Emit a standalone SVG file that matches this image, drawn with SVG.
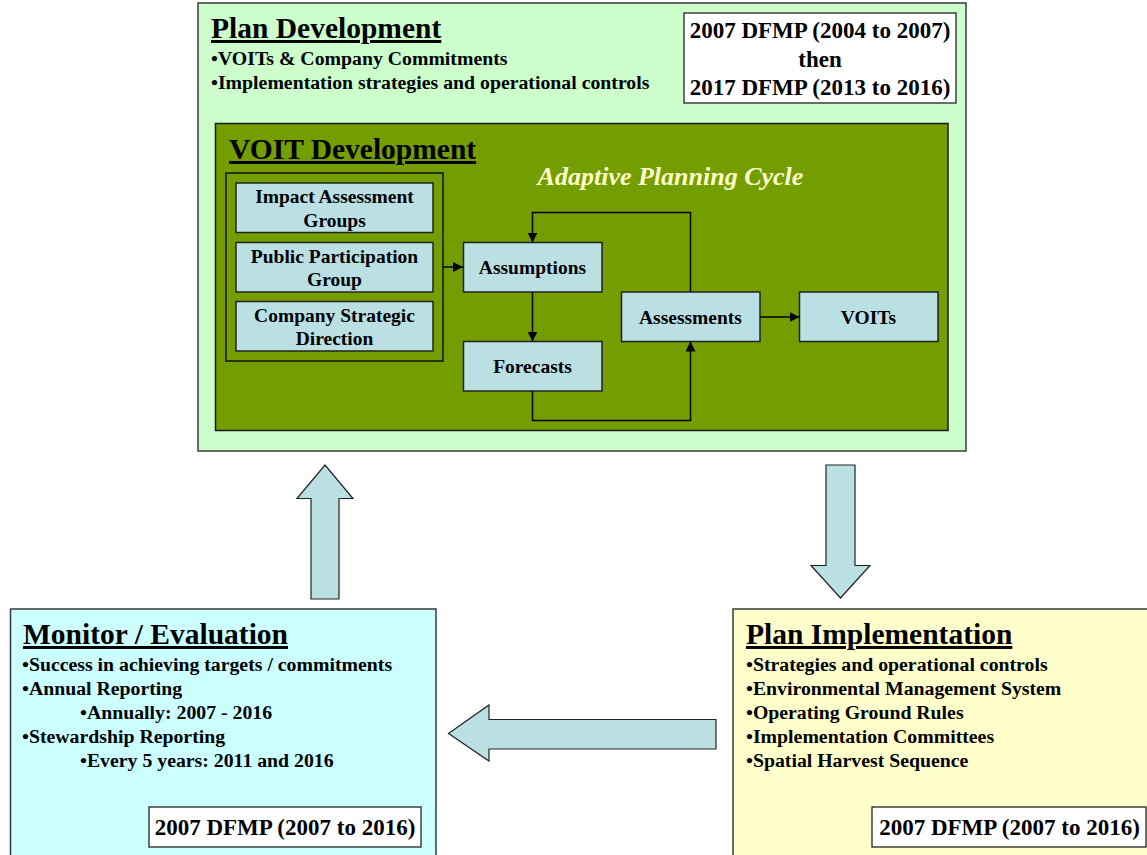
<svg xmlns="http://www.w3.org/2000/svg" width="1147" height="855" viewBox="0 0 1147 855">
<defs>
<marker id="ah" viewBox="0 0 10 10" refX="10" refY="5" markerWidth="10" markerHeight="10" markerUnits="userSpaceOnUse" orient="auto">
<path d="M0,0 L10,5 L0,10 z" fill="#000"/>
</marker>
<style>
text{font-family:"Liberation Serif","Times New Roman",serif;font-weight:bold;fill:#000}
.title{font-size:29.5px;text-decoration:underline}
.bul{font-size:19.8px}
.date{font-size:23px;text-anchor:middle}
.nt{font-size:19.5px;text-anchor:middle}
.node{fill:#BBE0E3;stroke:#222;stroke-width:1.5}
.big{stroke:#3a3a3a;stroke-width:1.5}
.datebox{fill:#fff;stroke:#222;stroke-width:1.3}
.bigarrow{fill:#BBE0E3;stroke:#222;stroke-width:1.2}
.conn{fill:none;stroke:#000;stroke-width:1.5}
</style>
</defs>
<rect width="1147" height="855" fill="#fff"/>

<g id="plan-development">
<rect class="big" x="198" y="3" width="768" height="448" fill="#CCFFCC"/>
<text class="title" x="211" y="38">Plan Development</text>
<text class="bul" x="211" y="65">•VOITs &amp; Company Commitments</text>
<text class="bul" x="211" y="89">•Implementation strategies and operational controls</text>
<rect class="datebox" x="684" y="13" width="272" height="90"/>
<text class="date" x="820" y="38">2007 DFMP (2004 to 2007)</text>
<text class="date" x="820" y="67">then</text>
<text class="date" x="820" y="95">2017 DFMP (2013 to 2016)</text>
</g>

<g id="voit-development">
<rect x="215.5" y="123.5" width="732.5" height="307" fill="#749D00" stroke="#1a1a1a" stroke-width="1.5"/>
<text class="title" x="229" y="159">VOIT Development</text>
<text x="670.5" y="185" font-size="26px" font-style="italic" text-anchor="middle" style="fill:#FFFFCC">Adaptive Planning Cycle</text>
</g>

<g id="input-group">
<rect x="226" y="173" width="217" height="188" fill="none" stroke="#111" stroke-width="1.5"/>
</g>
<g id="impact-assessment-groups">
<rect class="node" x="236" y="183" width="197" height="49.5"/>
<text class="nt" x="334.5" y="203">Impact Assessment</text>
<text class="nt" x="334.5" y="226.5">Groups</text>
</g>
<g id="public-participation-group">
<rect class="node" x="236" y="242.5" width="197" height="49.5"/>
<text class="nt" x="334.5" y="262.5">Public Participation</text>
<text class="nt" x="334.5" y="286">Group</text>
</g>
<g id="company-strategic-direction">
<rect class="node" x="236" y="301.5" width="197" height="49.5"/>
<text class="nt" x="334.5" y="321.5">Company Strategic</text>
<text class="nt" x="334.5" y="345">Direction</text>
</g>
<g id="assumptions">
<rect class="node" x="463.5" y="242.5" width="138.5" height="49.5"/>
<text class="nt" x="532.5" y="274">Assumptions</text>
</g>
<g id="forecasts">
<rect class="node" x="463.5" y="341.5" width="138.5" height="49.5"/>
<text class="nt" x="532.5" y="373">Forecasts</text>
</g>
<g id="assessments">
<rect class="node" x="621.5" y="292" width="138.5" height="49.5"/>
<text class="nt" x="690.5" y="323.5">Assessments</text>
</g>
<g id="voits">
<rect class="node" x="799.5" y="292" width="138.5" height="49.5"/>
<text class="nt" x="868.5" y="323.5">VOITs</text>
</g>

<g id="connectors">
<line class="conn" x1="443" y1="267" x2="463" y2="267" marker-end="url(#ah)"/>
<line class="conn" x1="532.5" y1="292" x2="532.5" y2="341.5" marker-end="url(#ah)"/>
<polyline class="conn" points="532.5,391 532.5,420.5 690.5,420.5 690.5,341.5" marker-end="url(#ah)"/>
<polyline class="conn" points="690.5,292 690.5,212.5 532.5,212.5 532.5,242.5" marker-end="url(#ah)"/>
<line class="conn" x1="760" y1="317" x2="799.5" y2="317" marker-end="url(#ah)"/>
<polygon class="bigarrow" points="311,599 339,599 339,498.5 353,498.5 325,465 297,498.5 311,498.5"/>
<polygon class="bigarrow" points="826,465 855,465 855,565.5 870,565.5 840.5,598 811,565.5 826,565.5"/>
<polygon class="bigarrow" points="716,719.5 716,749 489,749 489,761 448.5,733.5 489,705 489,719.5"/>
</g>

<g id="monitor-evaluation">
<rect class="big" x="10.5" y="609" width="425.5" height="250" fill="#CCFFFF"/>
<text class="title" x="23" y="644">Monitor / Evaluation</text>
<text class="bul" x="22" y="671">•Success in achieving targets / commitments</text>
<text class="bul" x="22" y="695">•Annual Reporting</text>
<text class="bul" x="80" y="719">•Annually: 2007 - 2016</text>
<text class="bul" x="22" y="743">•Stewardship Reporting</text>
<text class="bul" x="80" y="767">•Every 5 years: 2011 and 2016</text>
<rect class="datebox" x="149" y="807" width="272" height="40"/>
<text class="date" x="285" y="835">2007 DFMP (2007 to 2016)</text>
</g>

<g id="plan-implementation">
<rect class="big" x="733" y="609" width="420" height="250" fill="#FFFFCC"/>
<text class="title" x="746" y="644">Plan Implementation</text>
<text class="bul" x="746" y="671">•Strategies and operational controls</text>
<text class="bul" x="746" y="695">•Environmental Management System</text>
<text class="bul" x="746" y="719">•Operating Ground Rules</text>
<text class="bul" x="746" y="743">•Implementation Committees</text>
<text class="bul" x="746" y="767">•Spatial Harvest Sequence</text>
<rect class="datebox" x="872" y="807" width="274" height="40"/>
<text class="date" x="1009.5" y="835">2007 DFMP (2007 to 2016)</text>
</g>
</svg>
